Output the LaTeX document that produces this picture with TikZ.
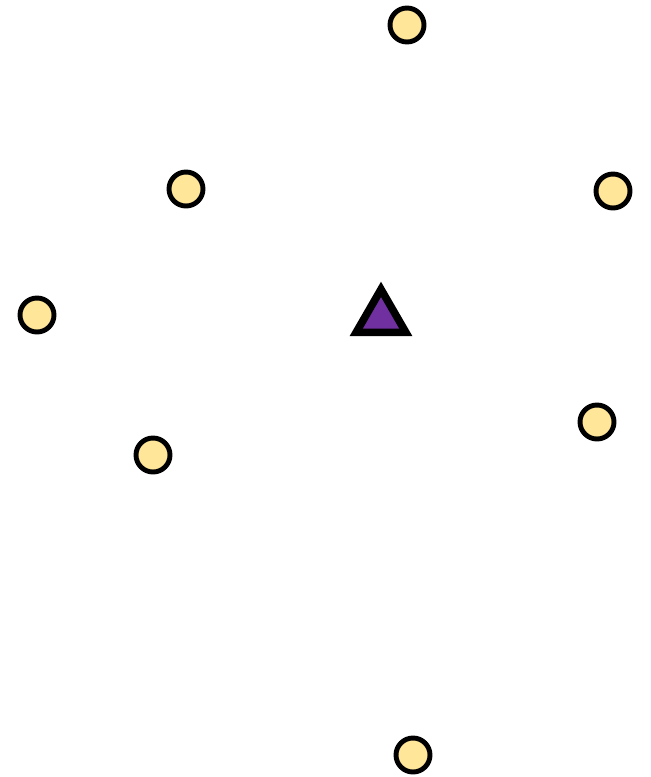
\documentclass[tikz,border=0pt]{standalone}
\usepackage{tikz}
\usetikzlibrary{shapes.geometric}

\definecolor{sitefill}{HTML}{FFE699}
\definecolor{hubfill}{HTML}{7030A0}

\tikzset{
  site/.style={circle, draw=black, line width=4.2pt, fill=sitefill,
    minimum size=1.02cm, inner sep=0pt},
  hub/.style={regular polygon, regular polygon sides=3, draw=black,
    line width=6.5pt, fill=hubfill, minimum size=1.72cm, inner sep=0pt,
    line join=miter}
}

\begin{document}
\begin{tikzpicture}[x=0.03cm, y=-0.03cm]
  \useasboundingbox (0,0) rectangle (651,777);
  % stations round the centre
  \node[site] (s1) at (407,25) {};
  \node[site] (s2) at (186,189) {};
  \node[site] (s3) at (613,191) {};
  \node[site] (s4) at (37,315) {};
  \node[site] (s5) at (597,422) {};
  \node[site] (s6) at (153,455) {};
  \node[site] (s7) at (413,755) {};
  % centre
  \node[hub] (hub) at (381,318) {};
\end{tikzpicture}
\end{document}
